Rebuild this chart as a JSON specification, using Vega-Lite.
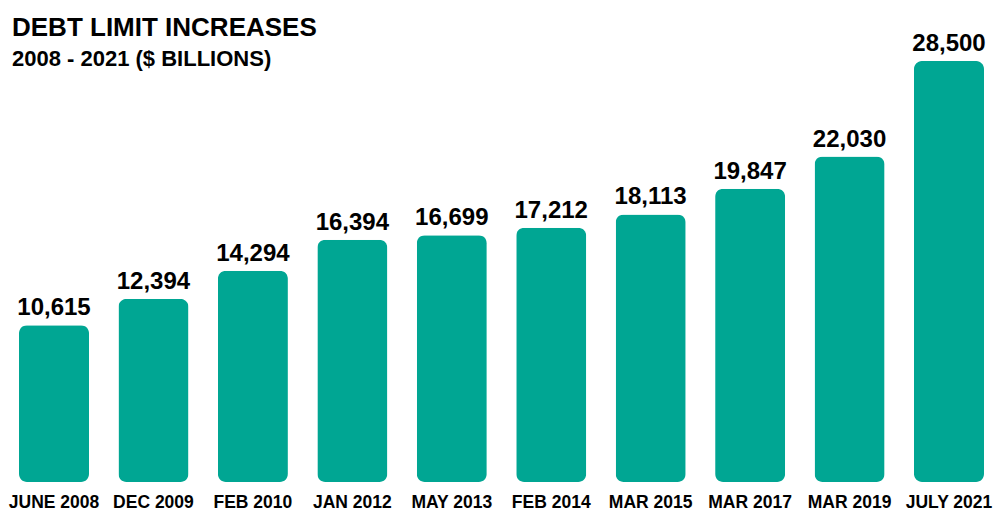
{
  "$schema": "https://vega.github.io/schema/vega-lite/v6.json",
  "width": 983,
  "height": 482,
  "autosize": "none",
  "padding": {"left": 10, "top": 0, "right": 0, "bottom": 29},
  "background": "white",
  "title": {
    "text": "DEBT LIMIT INCREASES",
    "subtitle": "2008 - 2021 ($ BILLIONS)",
    "anchor": "start",
    "frame": "group",
    "font": "Liberation Sans",
    "fontSize": 26,
    "fontWeight": "bold",
    "color": "black",
    "subtitleFont": "Liberation Sans",
    "subtitleFontSize": 22,
    "subtitleFontWeight": "bold",
    "subtitleColor": "black",
    "subtitlePadding": 8,
    "offset": -70,
    "dx": 2
  },
  "data": {
    "values": [
      {"date": "JUNE 2008", "value": 10615},
      {"date": "DEC 2009", "value": 12394},
      {"date": "FEB 2010", "value": 14294},
      {"date": "JAN 2012", "value": 16394},
      {"date": "MAY 2013", "value": 16699},
      {"date": "FEB 2014", "value": 17212},
      {"date": "MAR 2015", "value": 18113},
      {"date": "MAR 2017", "value": 19847},
      {"date": "MAR 2019", "value": 22030},
      {"date": "JULY 2021", "value": 28500}
    ]
  },
  "encoding": {
    "x": {
      "field": "date",
      "type": "nominal",
      "sort": null,
      "scale": {"paddingInner": 0.296, "paddingOuter": 0.0905},
      "axis": {
        "title": null,
        "labelAngle": 0,
        "ticks": false,
        "domain": false,
        "labelFont": "Liberation Sans",
        "labelFontSize": 17.5,
        "labelFontWeight": "bold",
        "labelColor": "black",
        "labelPadding": 11
      }
    },
    "y": {
      "field": "value",
      "type": "quantitative",
      "scale": {"domain": [0, 32629], "nice": false},
      "axis": null
    }
  },
  "layer": [
    {"mark": {"type": "bar", "color": "#00A693", "cornerRadius": 8}},
    {
      "mark": {
        "type": "text",
        "font": "Liberation Sans",
        "fontSize": 24,
        "fontWeight": "bold",
        "color": "black",
        "baseline": "alphabetic",
        "dy": -10
      },
      "encoding": {"text": {"field": "value", "type": "quantitative", "format": ","}}
    }
  ],
  "config": {"view": {"stroke": null}}
}
